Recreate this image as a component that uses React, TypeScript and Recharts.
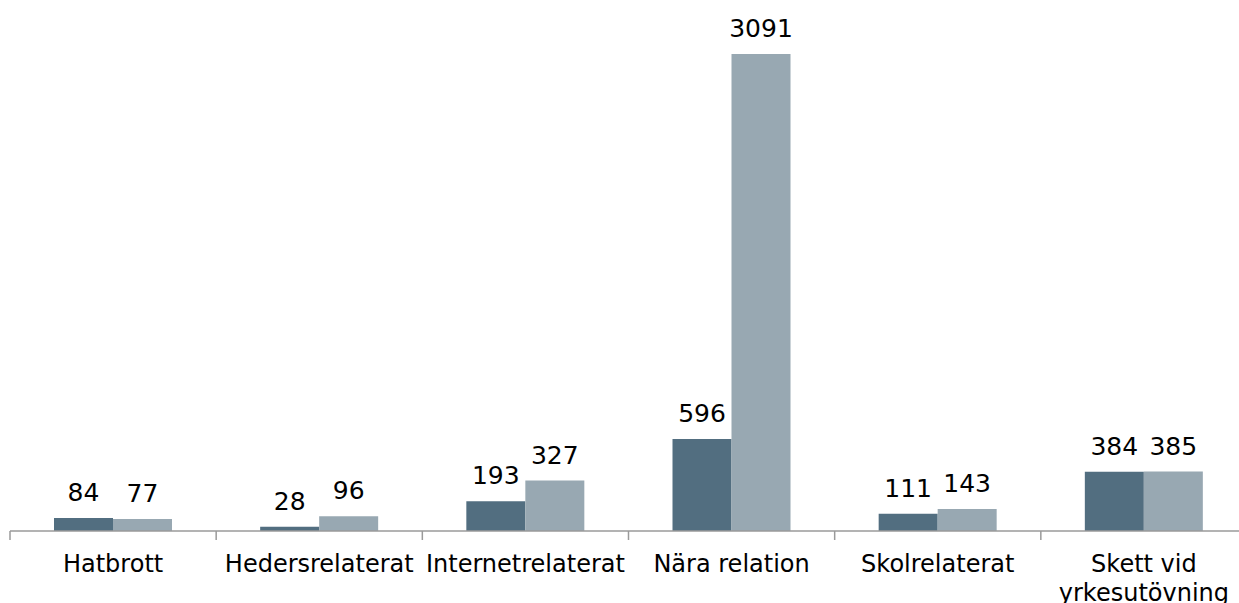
import { BarChart, Bar, XAxis, YAxis, LabelList } from 'recharts'

const categories = [
    'Hatbrott',
    'Hedersrelaterat',
    'Internetrelaterat',
    'Nära relation',
    'Skolrelaterat',
    'Skett vid yrkesutövning',
]
const serie1 = [84, 28, 193, 596, 111, 384]
const serie2 = [77, 96, 327, 3091, 143, 385]

// long labels are broken in two lines like in the original
const tickLines: Record<string, string[]> = {
    'Skett vid yrkesutövning': ['Skett vid', 'yrkesutövning'],
}

const data = categories.map((name, i) => ({ name, serie1: serie1[i], serie2: serie2[i] }))

const FONT = '"DejaVu Sans", Verdana, sans-serif'
const AXIS = '#9a9a9a'

const CategoryTick = (props: any) => {
    const { x, y, payload, index, visibleTicksCount } = props
    const half = payload?.offset ?? 103
    const lines = tickLines[payload.value] ?? [payload.value]
    const last = index === (visibleTicksCount ?? categories.length) - 1
    return (
        <g>
            <line x1={x - half} x2={x - half} y1={y} y2={y + 9} stroke={AXIS} strokeWidth={1.5} />
            {last && <line x1={x + half} x2={x + half} y1={y} y2={y + 9} stroke={AXIS} strokeWidth={1.5} />}
            <text x={x} y={y + 41} textAnchor="middle" fontSize={24} fontFamily={FONT} fill="#000">
                {lines.map((l, i) => (
                    <tspan key={i} x={x} dy={i === 0 ? 0 : 28.5}>
                        {l}
                    </tspan>
                ))}
            </text>
        </g>
    )
}

const App = () => {
    return (
        <div style={{ position: 'fixed', top: 0, left: 0, width: 1239, height: 603, overflow: 'hidden', background: '#fff' }}>
            <BarChart
                width={1250}
                height={603}
                data={data}
                margin={{ top: 40, right: 3, left: 10, bottom: 0 }}
                barGap={0}
            >
                <XAxis
                    dataKey="name"
                    height={72}
                    axisLine={{ stroke: AXIS, strokeWidth: 1.5 }}
                    tickLine={false}
                    tickSize={0}
                    tickMargin={0}
                    interval={0}
                    tick={<CategoryTick />}
                />
                <YAxis hide domain={[0, 3182]} />
                <Bar dataKey="serie1" fill="#526e80" barSize={59} isAnimationActive={false}>
                    <LabelList dataKey="serie1" position="top" offset={17} fontSize={25} fontFamily={FONT} fill="#000" />
                </Bar>
                <Bar dataKey="serie2" fill="#98a8b2" barSize={59} isAnimationActive={false}>
                    <LabelList dataKey="serie2" position="top" offset={17} fontSize={25} fontFamily={FONT} fill="#000" />
                </Bar>
            </BarChart>
        </div>
    )
}

export default App
